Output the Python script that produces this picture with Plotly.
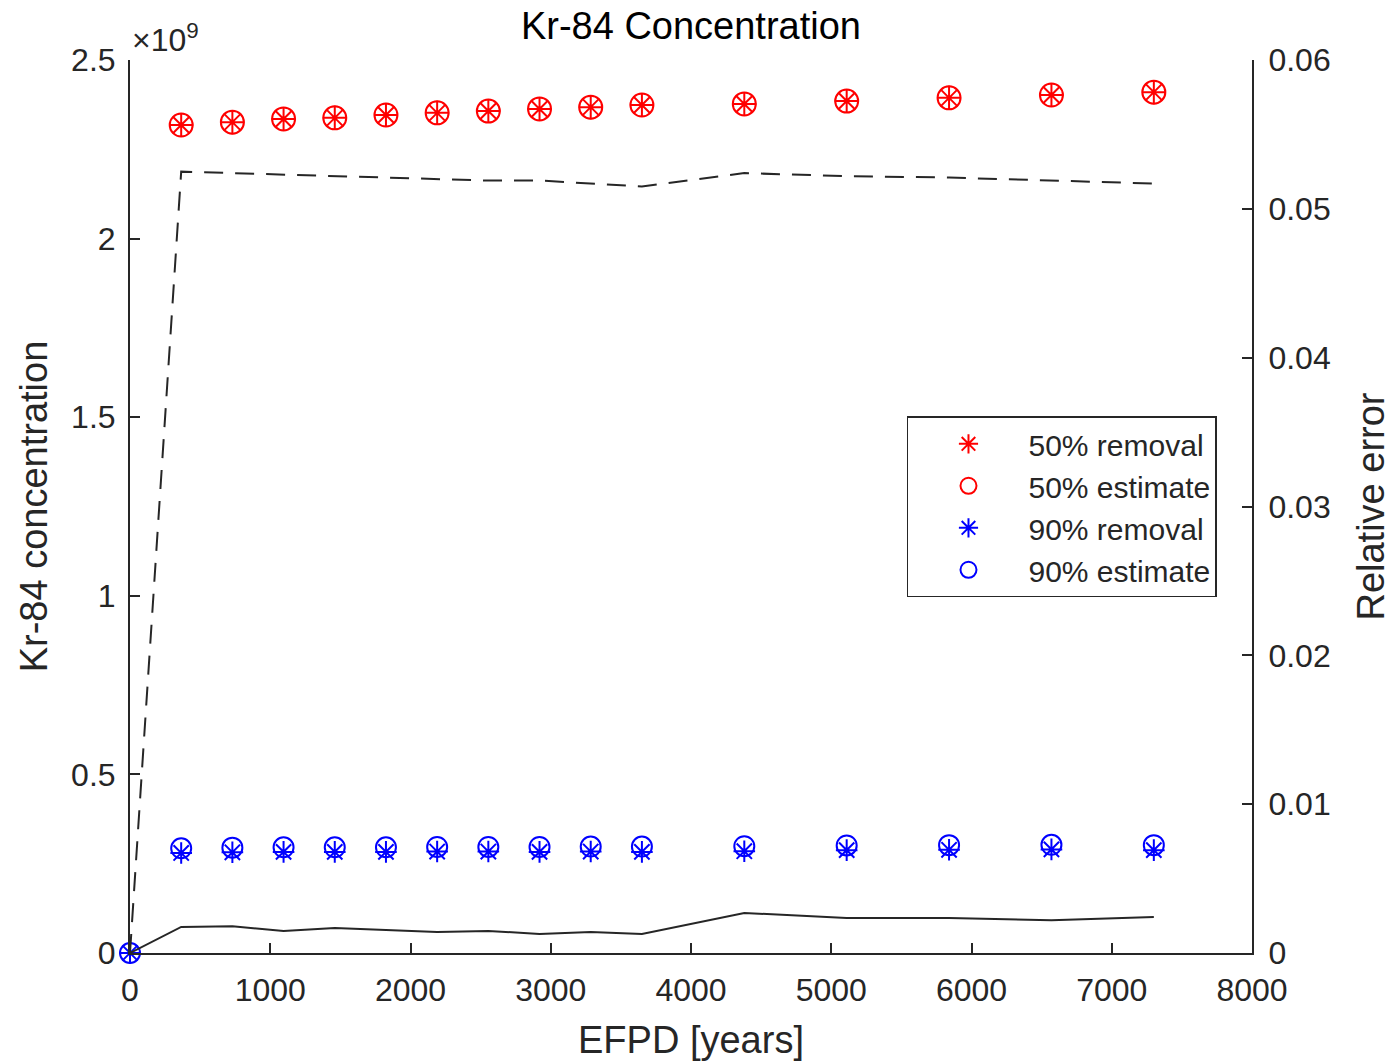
import plotly.graph_objects as go

efpd = [0, 365, 730, 1095, 1460, 1825, 2190, 2555, 2920, 3285, 3650, 4380, 5110, 5840, 6570, 7300]
efpd_red = [365, 730, 1095, 1460, 1825, 2190, 2555, 2920, 3285, 3650, 4380, 5110, 5840, 6570, 7300]

red_removal = [2.318e9, 2.326e9, 2.335e9, 2.338e9, 2.346e9, 2.352e9, 2.357e9, 2.363e9, 2.368e9, 2.374e9,
               2.377e9, 2.385e9, 2.394e9, 2.402e9, 2.410e9]
red_estimate = [2.318e9, 2.326e9, 2.335e9, 2.338e9, 2.346e9, 2.352e9, 2.357e9, 2.363e9, 2.368e9, 2.374e9,
                2.377e9, 2.385e9, 2.394e9, 2.402e9, 2.410e9]
blue_removal = [0, 0.280e9, 0.282e9, 0.283e9, 0.283e9, 0.283e9, 0.284e9, 0.284e9, 0.283e9, 0.284e9, 0.283e9,
                0.285e9, 0.288e9, 0.289e9, 0.290e9, 0.288e9]
blue_estimate = [0, 0.293e9, 0.295e9, 0.296e9, 0.296e9, 0.296e9, 0.297e9, 0.297e9, 0.297e9, 0.298e9, 0.298e9,
                 0.299e9, 0.301e9, 0.302e9, 0.303e9, 0.302e9]

err50 = [0, 0.0525, 0.0524, 0.0523, 0.0522, 0.0521, 0.0520, 0.0519, 0.0519, 0.0517, 0.0515,
         0.0524, 0.0522, 0.0521, 0.0519, 0.0517]
err90 = [0, 0.00175, 0.0018, 0.00148, 0.00168, 0.00155, 0.00141, 0.00148, 0.00128, 0.00141, 0.00128,
         0.00269, 0.00235, 0.00235, 0.0022, 0.00242]

left_ticks = [0, 0.5e9, 1.0e9, 1.5e9, 2.0e9, 2.5e9]
left_ticktext = ["0", "0.5", "1", "1.5", "2", "2.5"]
right_ticks = [0, 0.01, 0.02, 0.03, 0.04, 0.05, 0.06]
right_ticktext = ["0", "0.01", "0.02", "0.03", "0.04", "0.05", "0.06"]
x_ticks = [0, 1000, 2000, 3000, 4000, 5000, 6000, 7000, 8000]

FONT = "Liberation Sans, Arial, sans-serif"
TXT = "#262626"

fig = go.Figure()

fig.add_trace(go.Scatter(x=efpd, y=err50, mode="lines", yaxis="y2", showlegend=False,
                         line=dict(color="#262626", width=2, dash="19px,12px")))
fig.add_trace(go.Scatter(x=efpd, y=err90, mode="lines", yaxis="y2", showlegend=False,
                         line=dict(color="#262626", width=2)))

fig.add_trace(go.Scatter(x=efpd_red, y=red_removal, mode="markers", name="50% removal", cliponaxis=False,
                         marker=dict(symbol="asterisk-open", size=20, color="red",
                                     line=dict(color="red", width=2))))
fig.add_trace(go.Scatter(x=efpd_red, y=red_estimate, mode="markers", name="50% estimate", cliponaxis=False,
                         marker=dict(symbol="circle-open", size=23, color="red",
                                     line=dict(color="red", width=2))))
fig.add_trace(go.Scatter(x=efpd, y=blue_removal, mode="markers", name="90% removal", cliponaxis=False,
                         marker=dict(symbol="asterisk-open", size=18, color="blue",
                                     line=dict(color="blue", width=2))))
fig.add_trace(go.Scatter(x=efpd, y=blue_estimate, mode="markers", name="90% estimate", cliponaxis=False,
                         marker=dict(symbol="circle-open", size=20, color="blue",
                                     line=dict(color="blue", width=2))))

fig.update_layout(
    width=1397, height=1061,
    margin=dict(l=130, r=145, t=60, b=108),
    paper_bgcolor="white", plot_bgcolor="white",
    font=dict(family=FONT, size=32, color=TXT),
    title=dict(text="Kr-84 Concentration", x=0.4946, xanchor="center", y=0.976, yanchor="middle",
               font=dict(size=38, color="black")),
    xaxis=dict(range=[0, 8000], tickvals=x_ticks, ticks="inside", ticklen=10, tickwidth=1.5,
               tickcolor=TXT, showline=True, linecolor=TXT, linewidth=2, showgrid=False,
               zeroline=False, mirror=False, ticklabelstandoff=8, automargin=False,
               title=dict(text="EFPD [years]", font=dict(size=38), standoff=20)),
    yaxis=dict(range=[0, 2.5e9], tickvals=left_ticks, ticktext=left_ticktext, ticks="inside",
               ticklen=10, tickwidth=1.5, tickcolor=TXT, showline=True, linecolor=TXT, linewidth=2,
               showgrid=False, zeroline=False, ticklabelstandoff=6, automargin=False,
               title=dict(text="Kr-84 concentration", font=dict(size=38), standoff=12)),
    yaxis2=dict(range=[0, 0.06], tickvals=right_ticks, ticktext=right_ticktext, ticks="inside",
                ticklen=10, tickwidth=1.5, tickcolor=TXT, showline=True, linecolor=TXT, linewidth=2,
                showgrid=False, zeroline=False, overlaying="y", side="right", ticklabelstandoff=8,
                automargin=False,
                title=dict(text="Relative error", font=dict(size=38), standoff=28)),
    legend=dict(x=0.6925, y=0.601, xanchor="left", yanchor="top", bgcolor="white",
                bordercolor="#262626", borderwidth=1.5, font=dict(size=30, color=TXT),
                itemwidth=110, tracegroupgap=0),
    annotations=[dict(text="\u00d710<sup>9</sup>", xref="paper", yref="paper", x=0, y=1.0,
                      xanchor="left", yanchor="bottom", showarrow=False, yshift=0,
                      font=dict(size=32, color=TXT))],
)

fig.write_html("out.html")
